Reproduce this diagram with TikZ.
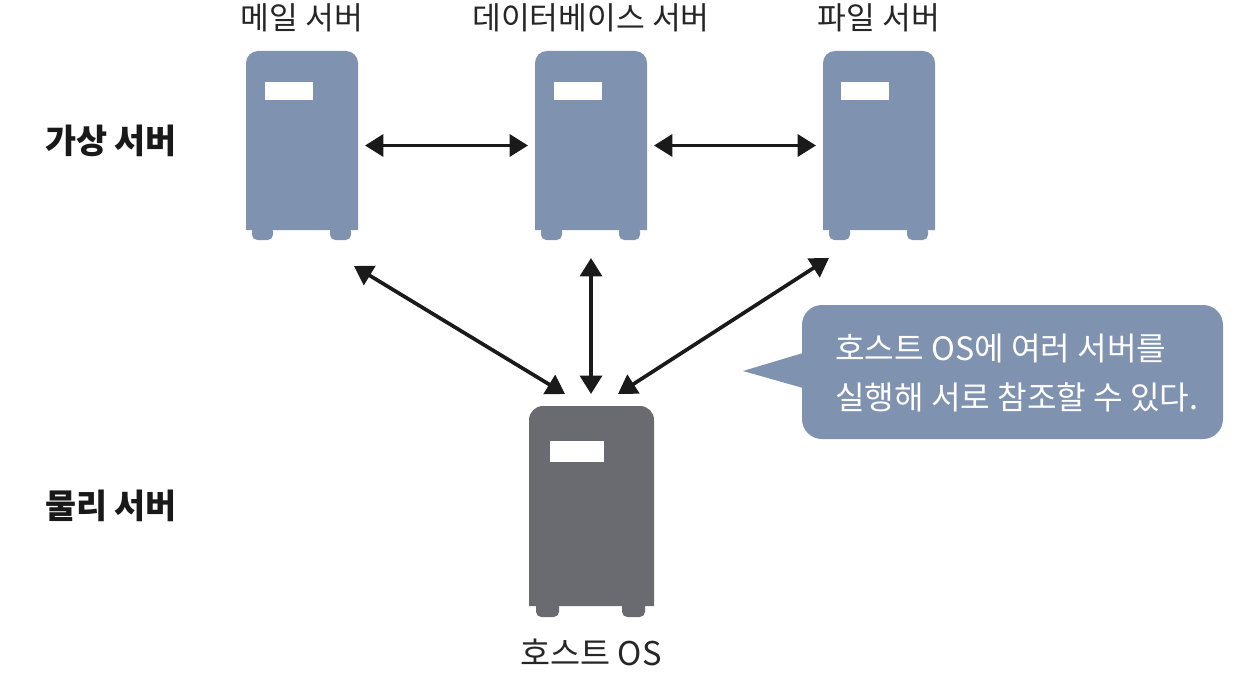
\documentclass[tikz,border=0pt]{standalone}
\usepackage{fontspec}
\setmainfont{Noto Sans CJK KR}
\usetikzlibrary{arrows.meta}
\definecolor{serverblue}{HTML}{7F92B0}
\definecolor{servergrey}{HTML}{6A6B70}
\definecolor{arrowblack}{HTML}{1A1A1A}
\tikzset{%
	server body/.style={
		draw=none,
		inner sep=0pt,
		outer sep=3.97pt
	},
	server label/.style={
		font=\fontsize{17.8pt}{20pt}\selectfont,
		text=black!85
	},
	side label/.style={
		font=\fontsize{19.2pt}{22pt}\selectfont\bfseries,
		text=black!90
	},
	note text/.style={
		font=\fontsize{18.3pt}{27.8pt}\selectfont,
		text=white,
		align=left,
		anchor=west,
		inner sep=0pt
	},
	both arrow/.style={
		{Triangle[length=10.5pt,width=12.5pt]}-{Triangle[length=10.5pt,width=12.5pt]},
		line width=2.1pt,
		draw=arrowblack
	}
}
\begin{document}
\begin{tikzpicture}[x=0.02cm,y=-0.02cm]
	\useasboundingbox (0,0) rectangle (1237,686);

	% Virtual servers
	\foreach \name/\left/\winleft/\label in {mail/246/18.5/메일 서버, db/535/18.5/데이터베이스 서버, file/823/17.5/파일 서버} {
		\begin{scope}[shift={(\left,51)}]
			\fill[serverblue, rounded corners=0.24cm] (0,179) [sharp corners] -- (0,60) [rounded corners=0.24cm] -- (0,0) -- (112,0) -- (112,60) [sharp corners] -- (112,179) -- cycle;
			\fill[serverblue, rounded corners=3] (6,175) rectangle (27,189);
			\fill[serverblue, rounded corners=3] (84,175) rectangle (105,189);
			\fill[white] (\winleft,31) rectangle (\winleft+48.5,49.5);
		\end{scope}
		\node[server body, minimum width=2.24cm, minimum height=3.78cm] (\name) at (\left+56,145.5) {};
		\node[server label] (\name Label) at (\left+56,18) {\label};
	}

	% Physical server
	\fill[servergrey] (529,606) -- (529,500) [rounded corners=0.28cm] -- (529,406) -- (654,406) -- (654,500) [sharp corners] -- (654,606) -- cycle;
	\fill[servergrey, rounded corners=3] (536,600) rectangle (559,617);
	\fill[servergrey, rounded corners=3] (622,600) rectangle (645,617);
	\fill[white] (549.5,441) rectangle (604,461.5);
	\node[server body, minimum width=2.5cm, minimum height=4.22cm] (host) at (591.5,511.5) {};
	\node[server label, font=\fontsize{18.6pt}{20pt}\selectfont] (hostLabel) at (591,652) {호스트 OS};

	% Labels for the two levels
	\node[side label] (virtualLabel) at (111,141) {가상 서버};
	\node[side label] (physicalLabel) at (111,506) {물리 서버};

	% Speech bubble
	\fill[serverblue, rounded corners=0.4cm] (802,305) rectangle (1223,439);
	\fill[serverblue] (803,353) -- (743,371) -- (803,388) -- cycle;
	\node[note text] (noteText) at (835,373)
		{호스트 OS에 여러 서버를\\실행해 서로 참조할 수 있다.};

	% Arrow ends away from the server edges
	\coordinate (mailFoot) at (354,266);
	\coordinate (dbFoot) at (591,258);
	\coordinate (fileFoot) at (829,258);
	\coordinate (hostLeft) at (565,394);
	\coordinate (hostTop) at (591,394);
	\coordinate (hostRight) at (618,394);

	\draw[both arrow] (mail.east) -- (db.west);
	\draw[both arrow] (db.east) -- (file.west);
	\draw[both arrow] (mailFoot) -- (hostLeft);
	\draw[both arrow] (dbFoot) -- (hostTop);
	\draw[both arrow] (fileFoot) -- (hostRight);
\end{tikzpicture}
\end{document}
